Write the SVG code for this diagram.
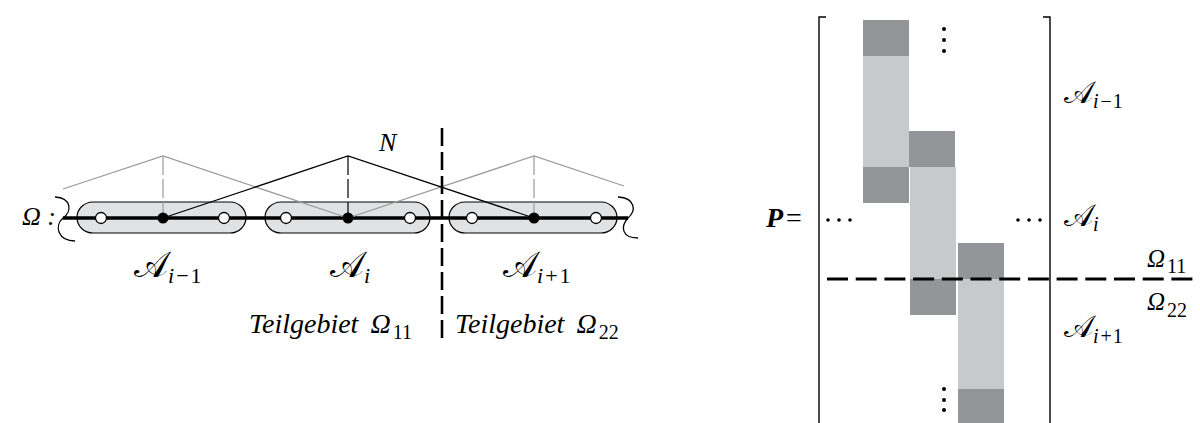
<svg xmlns="http://www.w3.org/2000/svg" width="1200" height="423" viewBox="0 0 1200 423">
<style>
.it{font-family:"Liberation Serif","DejaVu Serif",serif;font-style:italic;fill:#000}
.cal{font-family:"DejaVu Serif","DejaVu Sans","Noto Sans",serif;fill:#000}
.sub{font-family:"Liberation Serif","DejaVu Serif",serif;fill:#000}
.cap{fill:#e1e2e3;stroke:#000;stroke-width:1.2}
.open{fill:#fff;stroke:#000;stroke-width:1.3}
.fill{fill:#000}
.hatk{fill:none;stroke:#000;stroke-width:1.2}
.hatg{fill:none;stroke:#9a9a9a;stroke-width:1.2}
.dk{fill:#939598}
.lt{fill:#c8c9cb}
</style>
<rect width="1200" height="423" fill="#fff"/>
<g id="domain">
  <g id="capsules">
    <rect class="cap" x="77" y="202" width="169" height="31" rx="16" ry="15.5"/>
    <rect class="cap" x="265" y="202" width="165" height="31" rx="16" ry="15.5"/>
    <rect class="cap" x="449" y="202" width="168" height="31" rx="16" ry="15.5"/>
  </g>
  <line x1="63" y1="218" x2="628" y2="218" stroke="#000" stroke-width="3.4"/>
  <g id="connectors">
    <polyline class="hatg" points="63,189 163,156 348,218"/>
    <polyline class="hatg" points="348,218 534,156 624,186"/>
    <polyline class="hatk" points="163,218 348,156 534,218"/>
    <line x1="163" y1="156" x2="163" y2="218" stroke="#9a9a9a" stroke-width="1.2" stroke-dasharray="19 4"/>
    <line x1="534" y1="156" x2="534" y2="218" stroke="#9a9a9a" stroke-width="1.2" stroke-dasharray="19 4"/>
    <line x1="348" y1="156" x2="348" y2="218" stroke="#000" stroke-width="1.2" stroke-dasharray="19 4"/>
    <line x1="442" y1="128" x2="442" y2="339" stroke="#000" stroke-width="2.6" stroke-dasharray="18 6"/>
  </g>
  <g id="nodes">
    <circle class="open" cx="101" cy="218" r="5.5"/>
    <circle class="fill" cx="163" cy="218" r="5.5"/>
    <circle class="open" cx="224" cy="218" r="5.5"/>
    <circle class="open" cx="286" cy="218" r="5.5"/>
    <circle class="fill" cx="348" cy="218" r="5.5"/>
    <circle class="open" cx="410" cy="218" r="5.5"/>
    <circle class="open" cx="472" cy="218" r="5.5"/>
    <circle class="fill" cx="534" cy="218" r="5.5"/>
    <circle class="open" cx="596" cy="218" r="5.5"/>
  </g>
  <path d="M55,197 C72,198 72,212 63,218 C54,226 58,241 75,241" fill="none" stroke="#000" stroke-width="1.3"/>
  <path d="M618,197 C636,198 636,211 628,218 C620,227 622,238 638,238" fill="none" stroke="#000" stroke-width="1.3"/>
  <text class="it" x="22" y="225" font-size="26">Ω :</text>
  <text class="it" x="379" y="151" font-size="26">N</text>
  <text class="cal" x="134" y="277" font-size="36">𝒜<tspan class="sub" font-style="italic" font-size="22" dy="6">i</tspan><tspan class="sub" font-size="22" dx="2">−</tspan><tspan class="sub" font-size="22" dx="2">1</tspan></text>
  <text class="cal" x="330" y="277" font-size="36">𝒜<tspan class="sub" font-style="italic" font-size="22" dy="6">i</tspan></text>
  <text class="cal" x="503" y="277" font-size="36">𝒜<tspan class="sub" font-style="italic" font-size="22" dy="6">i</tspan><tspan class="sub" font-size="22" dx="2">+</tspan><tspan class="sub" font-size="22" dx="2">1</tspan></text>
  <text class="it" x="249" y="333" font-size="28">Teilgebiet<tspan dx="12">Ω</tspan><tspan font-style="normal" font-size="20" dy="6" dx="2">11</tspan></text>
  <text class="it" x="455" y="333" font-size="28">Teilgebiet<tspan dx="12">Ω</tspan><tspan font-style="normal" font-size="20" dy="6" dx="2">22</tspan></text>
</g>
<g id="matrix">
  <rect class="dk" x="863" y="20" width="46" height="36"/>
  <rect class="lt" x="863" y="56" width="46" height="111"/>
  <rect class="dk" x="863" y="167" width="46" height="36"/>
  <rect class="dk" x="909" y="131" width="46" height="36"/>
  <rect class="lt" x="910" y="167" width="46" height="112"/>
  <rect class="dk" x="910" y="279" width="46" height="36"/>
  <rect class="dk" x="958" y="243" width="46" height="36"/>
  <rect class="lt" x="958" y="279" width="46" height="110"/>
  <rect class="dk" x="958" y="389" width="46" height="36"/>
  <path d="M826,17 H819 V423" fill="none" stroke="#000" stroke-width="1.4"/>
  <path d="M1043,17 H1050 V423" fill="none" stroke="#000" stroke-width="1.4"/>
  <g fill="#000">
    <circle cx="944" cy="29" r="2"/><circle cx="944" cy="40" r="2"/><circle cx="944" cy="51" r="2"/>
    <circle cx="944" cy="389" r="2"/><circle cx="944" cy="400" r="2"/><circle cx="944" cy="410" r="2"/>
    <circle cx="828" cy="220" r="1.8"/><circle cx="839" cy="220" r="1.8"/><circle cx="850" cy="220" r="1.8"/>
    <circle cx="1018" cy="220" r="1.8"/><circle cx="1029" cy="220" r="1.8"/><circle cx="1040" cy="220" r="1.8"/>
  </g>
  <line x1="827" y1="279" x2="1197" y2="279" stroke="#000" stroke-width="2.8" stroke-dasharray="21 7.7"/>
  <text x="766" y="227" font-family="Liberation Serif, serif" font-weight="bold" font-style="italic" font-size="28">P<tspan font-style="normal" font-weight="normal" dx="3">=</tspan></text>
  <text class="cal" x="1064" y="103" font-size="31">𝒜<tspan class="sub" font-style="italic" font-size="20" dy="5">i</tspan><tspan class="sub" font-size="20" dx="2">−</tspan><tspan class="sub" font-size="20" dx="1">1</tspan></text>
  <text class="cal" x="1064" y="226" font-size="31">𝒜<tspan class="sub" font-style="italic" font-size="20" dy="5">i</tspan></text>
  <text class="cal" x="1064" y="337" font-size="31">𝒜<tspan class="sub" font-style="italic" font-size="20" dy="6">i</tspan><tspan class="sub" font-size="20" dx="2">+</tspan><tspan class="sub" font-size="20" dx="1">1</tspan></text>
  <text class="it" x="1147" y="267" font-size="25">Ω<tspan font-style="normal" font-size="20" dy="6" dx="2">11</tspan></text>
  <text class="it" x="1147" y="310" font-size="25">Ω<tspan font-style="normal" font-size="20" dy="7" dx="2">22</tspan></text>
</g>
</svg>
